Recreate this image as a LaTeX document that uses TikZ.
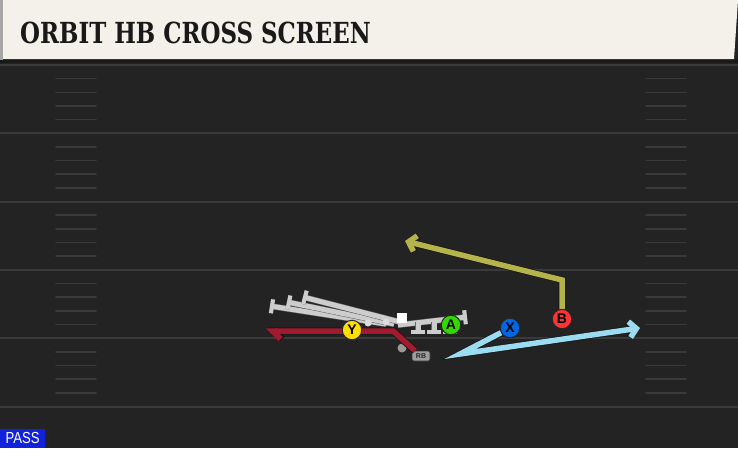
\documentclass[tikz,border=0pt]{standalone}
\usepackage{fontspec}
\usetikzlibrary{arrows.meta}
\newfontfamily\titlefont{DejaVu Serif}
\newfontfamily\tagfont{Liberation Sans}

\definecolor{fieldcol}{HTML}{232323}
\definecolor{linecol}{HTML}{3A3A3A}
\definecolor{headcol}{HTML}{F4F1EA}
\definecolor{passcol}{HTML}{1222DA}
\definecolor{blockcol}{HTML}{CDCDCD}
\definecolor{bcol}{HTML}{B4B44A}
\definecolor{xcol}{HTML}{9CDCF0}
\definecolor{rcol}{HTML}{A31A2E}

\tikzset{
  yard/.style={draw=linecol, line width=2pt},
  hash/.style={draw=linecol, line width=1.6pt, line cap=round},
  player/.style={circle, draw=black!85, line width=1pt, minimum size=19.5pt, inner sep=0pt,
    font=\tagfont\bfseries\fontsize{14}{14}\selectfont},
  route/.style={line width=5.5pt, line join=miter,
    preaction={draw=black!90, line width=7.2pt}},
  block/.style={draw=blockcol, line width=5pt, -{Bar[width=14pt,line width=4pt]},
    preaction={draw=black!60, line width=6pt}},
}

\begin{document}
\begin{tikzpicture}[x=1pt, y=-1pt]
\useasboundingbox (0,0) rectangle (738,448);

% Field
\fill[fieldcol] (0,0) rectangle (738,448);
\foreach \k in {0,...,5}
  \draw[yard] (0,{65+68.3*\k}) -- (738,{65+68.3*\k});
\foreach \k in {0,...,4} {
  \foreach \j in {1,...,4} {
    \draw[hash] (56,{65+68.3*\k+13.66*\j}) -- (96,{65+68.3*\k+13.66*\j});
    \draw[hash] (646,{65+68.3*\k+13.66*\j}) -- (686,{65+68.3*\k+13.66*\j});
  }
}

% Header
\fill[black!90] (0,59) rectangle (738,63);
\fill[headcol] (3,0) -- (738,0) -- (734,59) -- (3,59) -- cycle;
\fill[black!35] (0,0) rectangle (3,60);
\node[anchor=base west, inner sep=0pt, text=black!90] (title) at (20,43)
  {\scalebox{0.79}[1]{\titlefont\bfseries\fontsize{29}{29}\selectfont ORBIT HB CROSS SCREEN}};

% Play type
\node[fill=passcol, anchor=south west, minimum width=45pt, minimum height=19pt, inner sep=0pt,
  text=white] (playtype) at (0,448)
  {\scalebox{0.82}[1]{\tagfont\fontsize{16}{16}\selectfont PASS}};

% Blocking
\draw[block] (386,324) -- (270,306);
\draw[block] (394,324) -- (287,302);
\draw[block] (400,322) -- (303,297);
\draw[block] (398,325) -- (467,317);
\foreach \sx in {418,434,450}
  \draw[block] (\sx,322) -- (\sx,334);
\fill[blockcol!70!white] (368,323) circle (3.5pt) (386,322) circle (3.5pt);
\node[fill=white, minimum size=10pt, inner sep=0pt] (C) at (402,318) {};

% Backfield
\node[fill=black!40, circle, minimum size=9pt, inner sep=0pt] (qb) at (402,348) {};
\node[fill=black!38, draw=black!80, line width=0.6pt, rounded corners=2pt, minimum width=18pt,
  minimum height=10pt, inner sep=0pt, font=\tagfont\bfseries\fontsize{7}{7}\selectfont,
  text=black!85] (RB) at (421,356) {RB};

% HB cross route
\coordinate (r1) at (393,331);
\coordinate (r2) at (266,331);
\draw[route, rcol, -{Straight Barb[left, length=8pt, width=16pt]}] (RB) -- (r1) -- (r2);

% Receivers
\node[player, fill=yellow!80!orange] (Y) at (352,330) {Y};
\node[player, fill=green!70!lime!85!black] (A) at (451,325) {A};
\node[player, fill=blue!55!cyan!90!black] (X) at (510,328) {X};
\node[player, fill=red!80!white] (B) at (562,319) {B};

% Routes
\coordinate (b1) at (562,280);
\coordinate (b2) at (405,241);
\draw[route, bcol, -{Straight Barb[length=7pt, width=16pt]}] (B) -- (b1) -- (b2);

\coordinate (x1) at (460,354);
\coordinate (x2) at (640,328);
\draw[route, xcol, -{Straight Barb[length=7pt, width=16pt]}] (X) -- (x1) -- (x2);

\end{tikzpicture}
\end{document}
